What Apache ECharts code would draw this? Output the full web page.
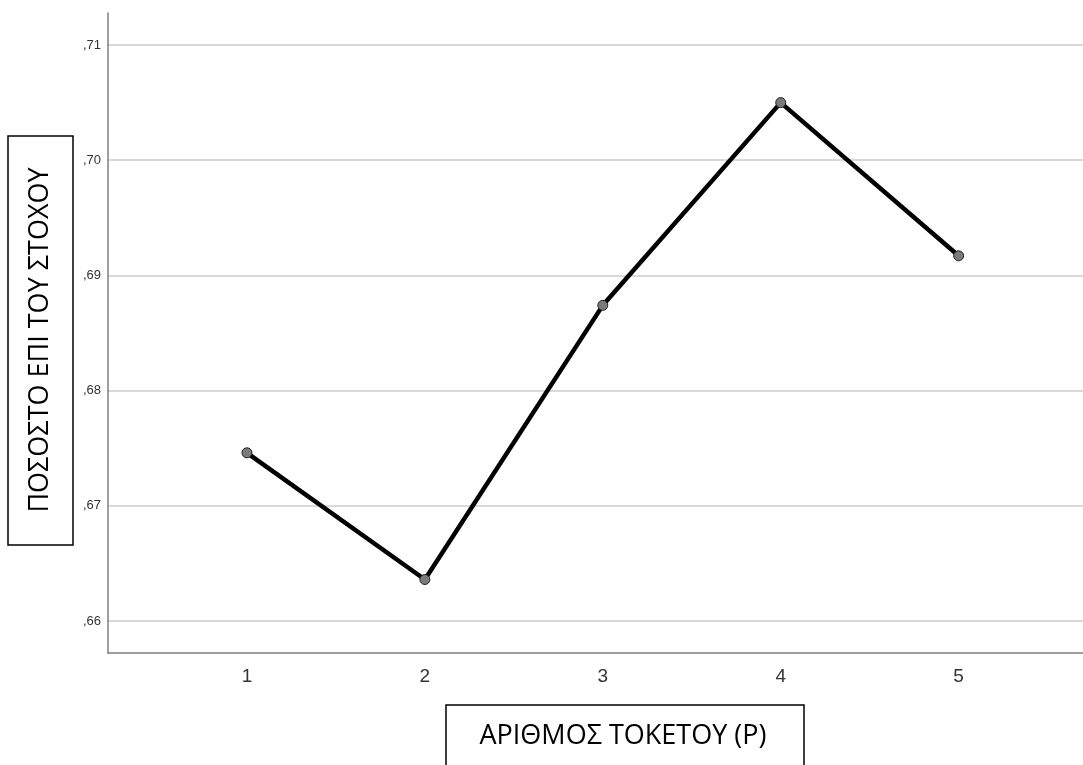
<!DOCTYPE html>
<html>
<head>
<meta charset="utf-8">
<script src="https://cdn.jsdelivr.net/npm/echarts@6/dist/echarts.min.js"></script>
<style>html,body{margin:0;padding:0;background:#fff}#c{width:1083px;height:765px}</style>
</head>
<body>
<div id="c"></div>
<script>
var categories = [1, 2, 3, 4, 5];
var values = [0.6746, 0.6636, 0.6874, 0.7050, 0.6917];
var yTicks = [0.66, 0.67, 0.68, 0.69, 0.70, 0.71];
var xTitle = 'ΑΡΙΘΜΟΣ ΤΟΚΕΤΟΥ (Ρ)';
var yTitle = 'ΠΟΣΟΣΤΟ ΕΠΙ ΤΟΥ ΣΤΟΧΟΥ';

var chart = echarts.init(document.getElementById('c'), null, {renderer: 'canvas'});
var narrow = '"Liberation Sans Narrow", "Arial Narrow", "Liberation Sans", sans-serif';
var titleFont = '"Open Sans", "Noto Sans", sans-serif';
chart.setOption({
  animation: false,
  backgroundColor: '#ffffff',
  grid: {left: 108, top: 13, right: 0, bottom: 112, containLabel: false},
  xAxis: {
    type: 'value',
    min: 0.219, max: 5.699,
    axisLine: {show: true, lineStyle: {color: '#7f7f7f', width: 1.5}},
    axisTick: {show: false, customValues: categories},
    splitLine: {show: false},
    axisLabel: {customValues: categories, color: '#333', fontSize: 19, fontFamily: narrow, margin: 14,
      formatter: function (v) { return String(Math.round(v)); }}
  },
  yAxis: {
    type: 'value',
    min: 0.65722, max: 0.71278,
    axisLine: {show: true, lineStyle: {color: '#7f7f7f', width: 1.5}},
    axisTick: {show: false, customValues: yTicks},
    splitLine: {show: true, lineStyle: {color: '#cccccc', width: 1.5}},
    axisLabel: {customValues: yTicks, color: '#333', fontSize: 13, fontFamily: narrow, margin: 7,
      formatter: function (v) { return ',' + Math.round(v * 100); }}
  },
  series: [{
    type: 'line',
    data: categories.map(function (c, i) { return [c, values[i]]; }),
    symbol: 'circle',
    symbolSize: 10,
    lineStyle: {color: '#000', width: 4.5},
    itemStyle: {color: '#7a7a7a', borderColor: '#222', borderWidth: 1},
    z: 5
  }],
  graphic: [
    {type: 'rect', shape: {x: 8, y: 136, width: 65, height: 409},
     style: {fill: '#fff', stroke: '#000', lineWidth: 1.5}},
    {type: 'text', x: 40, y: 340, rotation: Math.PI / 2,
     style: {text: yTitle, font: '27px ' + titleFont, fill: '#000', align: 'center', verticalAlign: 'middle'}},
    {type: 'rect', shape: {x: 446, y: 705, width: 358, height: 80},
     style: {fill: '#fff', stroke: '#000', lineWidth: 1.5}},
    {type: 'text', x: 623, y: 736,
     style: {text: xTitle, font: '27px ' + titleFont, fill: '#000', align: 'center', verticalAlign: 'middle'}}
  ]
});
</script>
</body>
</html>
